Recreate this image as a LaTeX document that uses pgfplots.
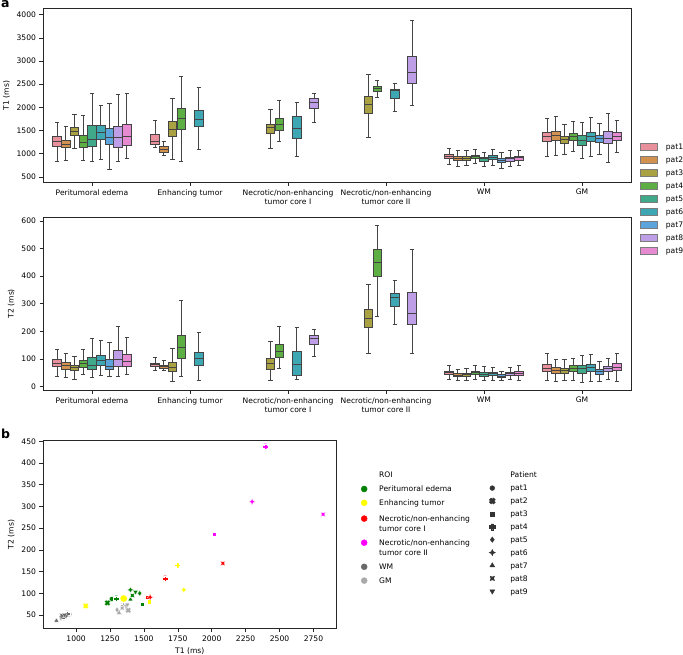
\documentclass[border=0pt]{standalone}
\usepackage{fontspec}
\setmainfont{DejaVu Sans}
\usepackage{pgfplots}
\pgfplotsset{compat=1.18}

% patient colours (as seen in the box plots)
\definecolor{p0}{HTML}{E8919D}
\definecolor{p1}{HTML}{D2914E}
\definecolor{p2}{HTML}{A9A142}
\definecolor{p3}{HTML}{5DAF44}
\definecolor{p4}{HTML}{40A98A}
\definecolor{p5}{HTML}{3DA8B3}
\definecolor{p6}{HTML}{5BA5DC}
\definecolor{p7}{HTML}{BE9EE6}
\definecolor{p8}{HTML}{E68BD2}
\definecolor{boxline}{HTML}{444444}
\definecolor{rE}{HTML}{008000}
\definecolor{rT}{HTML}{FFFF00}
\definecolor{rC}{HTML}{FF0000}
\definecolor{rD}{HTML}{FF00FF}
\definecolor{rW}{HTML}{696969}
\definecolor{rG}{HTML}{A9A9A9}
\definecolor{legdark}{HTML}{333333}

\newcommand{\fs}{\fontsize{7.6}{9.5}\selectfont}
\DeclareRobustCommand{\ls}{\rule[-2pt]{0pt}{9.5pt}}
\DeclareRobustCommand{\lsa}{\rule[-2pt]{0pt}{11.5pt}}
\DeclareRobustCommand{\lsc}{\rule[-2pt]{0pt}{6pt}}

% filled plus
\pgfdeclareplotmark{Pf}{%
  \pgfpathmoveto{\pgfpoint{0.42*\pgfplotmarksize}{\pgfplotmarksize}}%
  \pgfpathlineto{\pgfpoint{0.42*\pgfplotmarksize}{0.42*\pgfplotmarksize}}%
  \pgfpathlineto{\pgfpoint{\pgfplotmarksize}{0.42*\pgfplotmarksize}}%
  \pgfpathlineto{\pgfpoint{\pgfplotmarksize}{-0.42*\pgfplotmarksize}}%
  \pgfpathlineto{\pgfpoint{0.42*\pgfplotmarksize}{-0.42*\pgfplotmarksize}}%
  \pgfpathlineto{\pgfpoint{0.42*\pgfplotmarksize}{-\pgfplotmarksize}}%
  \pgfpathlineto{\pgfpoint{-0.42*\pgfplotmarksize}{-\pgfplotmarksize}}%
  \pgfpathlineto{\pgfpoint{-0.42*\pgfplotmarksize}{-0.42*\pgfplotmarksize}}%
  \pgfpathlineto{\pgfpoint{-\pgfplotmarksize}{-0.42*\pgfplotmarksize}}%
  \pgfpathlineto{\pgfpoint{-\pgfplotmarksize}{0.42*\pgfplotmarksize}}%
  \pgfpathlineto{\pgfpoint{-0.42*\pgfplotmarksize}{0.42*\pgfplotmarksize}}%
  \pgfpathlineto{\pgfpoint{-0.42*\pgfplotmarksize}{\pgfplotmarksize}}%
  \pgfpathclose
  \pgfusepathqfillstroke}
% four-pointed star
\pgfdeclareplotmark{S4}{%
  \pgfpathmoveto{\pgfpoint{0pt}{\pgfplotmarksize}}%
  \pgfpathlineto{\pgfpoint{0.32*\pgfplotmarksize}{0.32*\pgfplotmarksize}}%
  \pgfpathlineto{\pgfpoint{\pgfplotmarksize}{0pt}}%
  \pgfpathlineto{\pgfpoint{0.32*\pgfplotmarksize}{-0.32*\pgfplotmarksize}}%
  \pgfpathlineto{\pgfpoint{0pt}{-\pgfplotmarksize}}%
  \pgfpathlineto{\pgfpoint{-0.32*\pgfplotmarksize}{-0.32*\pgfplotmarksize}}%
  \pgfpathlineto{\pgfpoint{-\pgfplotmarksize}{0pt}}%
  \pgfpathlineto{\pgfpoint{-0.32*\pgfplotmarksize}{0.32*\pgfplotmarksize}}%
  \pgfpathclose
  \pgfusepathqfillstroke}

\pgfplotsset{
  base/.style={scale only axis, axis line style={black!85, line width=0.6pt},
    tick align=outside, major tick length=3.5pt,
    tick style={black!85, line width=0.6pt}, tick pos=left,
    tick label style={font=\fs}, label style={font=\fs},
    /pgf/number format/assume math mode=true,
    /pgf/number format/set thousands separator={}},
  boxax/.style={base, width=588pt, xmin=-0.5, xmax=5.5, xtick={0,...,5},
    xticklabels={Peritumoral edema, Enhancing tumor,
      {Necrotic/non-enhancing\\tumor core I},
      {Necrotic/non-enhancing\\tumor core II}, WM, GM},
    xticklabel style={align=center}},
  legbox/.style={legend image code/.code={\draw[fill=#1,draw=boxline!70,line width=0.7pt] (0pt,-0.8pt) rectangle (17pt,6.2pt);}},
  pm1/.style={mark=*, mark size=2.4pt},
  pm2/.style={mark=Pf, mark size=3pt, /tikz/every mark/.append style={rotate=45}},
  pm3/.style={mark=square*, mark size=2.1pt},
  pm4/.style={mark=Pf, mark size=2.9pt},
  pm5/.style={mark=diamond*, mark size=2.7pt},
  pm6/.style={mark=S4, mark size=3.1pt},
  pm7/.style={mark=triangle*, mark size=2.8pt},
  pm8/.style={mark=S4, mark size=3.1pt, /tikz/every mark/.append style={rotate=45}},
  pm9/.style={mark=triangle*, mark size=2.8pt, /tikz/every mark/.append style={rotate=180}},
}

% box: category, patient index, lower whisker, q1, median, q3, upper whisker
\newcommand{\bx}[7]{%
  \pgfmathsetmacro{\bxC}{#1-0.4+0.088889*(#2+0.5)}%
  \pgfmathsetmacro{\bxL}{\bxC-0.0436}%
  \pgfmathsetmacro{\bxR}{\bxC+0.0436}%
  \pgfmathsetmacro{\capL}{\bxC-0.0218}%
  \pgfmathsetmacro{\capR}{\bxC+0.0218}%
  \edef\bxcmd{%
    \noexpand\addplot[fill=p#2, draw=boxline, line width=0.8pt, legbox=p#2]
      coordinates {(\bxL,#4) (\bxR,#4) (\bxR,#6) (\bxL,#6)} --cycle;
    \noexpand\addplot[draw=boxline, line width=0.8pt, unbounded coords=jump, forget plot]
      coordinates {(\bxC,#3) (\bxC,#4) (\bxC,nan) (\bxC,#6) (\bxC,#7) (\bxC,nan)
        (\capL,#3) (\capR,#3) (\capR,nan) (\capL,#7) (\capR,#7) (\capR,nan) (\bxL,#5) (\bxR,#5)};}%
  \bxcmd}
% scatter point: colour, patient, T1, T2
\newcommand{\spt}[4]{\addplot[only marks, color=#1, pm#2,
  /tikz/every mark/.append style={fill=#1, draw=white, line width=0.2pt}] coordinates {(#3,#4)};}

\begin{document}
\begin{tikzpicture}
\path[use as bounding box] (0pt,0pt) rectangle (683pt,-655pt);

% ---------- T1 boxes ----------
\begin{axis}[boxax, at={(43pt,-8.7pt)}, anchor=north west, height=173.6pt,
  ymin=383, ymax=4130, ytick={500,1000,...,4000}, ylabel={T1 (ms)},
  legend style={at={(1.0153,0.2367)}, anchor=north west, draw=none, fill=none,
    inner sep=0pt, row sep=1.9pt, font=\fs, cells={anchor=base west},
    nodes={inner sep=1pt}}]
\bx{0}{0}{842}{1151}{1259}{1367}{1676}\addlegendentry{\hspace{7pt}\ls pat1}
\bx{0}{1}{856}{1129}{1209}{1295}{1597}\addlegendentry{\hspace{7pt}\ls pat2}
\bx{0}{2}{1122}{1396}{1475}{1568}{1856}\addlegendentry{\hspace{7pt}\ls pat3}
\bx{0}{3}{863}{1144}{1245}{1403}{1834}\addlegendentry{\hspace{7pt}\ls pat4}
\bx{0}{4}{842}{1151}{1317}{1604}{2309}\addlegendentry{\hspace{7pt}\ls pat5}
\bx{0}{5}{878}{1309}{1453}{1604}{2050}\addlegendentry{\hspace{7pt}\ls pat6}
\bx{0}{6}{655}{1194}{1360}{1547}{2094}\addlegendentry{\hspace{7pt}\ls pat7}
\bx{0}{7}{835}{1144}{1360}{1597}{2281}\addlegendentry{\hspace{7pt}\ls pat8}
\bx{0}{8}{892}{1180}{1374}{1633}{2302}\addlegendentry{\hspace{7pt}\ls pat9}
\bx{1}{0}{1144}{1209}{1259}{1417}{1719}
\bx{1}{1}{957}{1036}{1094}{1165}{1273}
\bx{1}{2}{878}{1381}{1532}{1705}{2194}
\bx{1}{3}{835}{1518}{1770}{1978}{2669}
\bx{1}{5}{1086}{1590}{1748}{1928}{2432}
\bx{2}{2}{1108}{1432}{1568}{1640}{1957}
\bx{2}{3}{1266}{1504}{1626}{1763}{2158}
\bx{2}{5}{942}{1331}{1554}{1799}{2101}
\bx{2}{7}{1676}{1986}{2101}{2194}{2295}
\bx{3}{2}{1345}{1870}{2072}{2237}{2705}
\bx{3}{3}{2209}{2345}{2403}{2453}{2590}
\bx{3}{5}{1921}{2194}{2360}{2396}{2511}
\bx{3}{7}{2036}{2518}{2748}{3108}{3870}
\bx{4}{0}{770}{906}{950}{986}{1122}
\bx{4}{1}{734}{856}{899}{935}{1065}
\bx{4}{2}{741}{856}{906}{935}{1065}
\bx{4}{3}{784}{892}{935}{971}{1086}
\bx{4}{4}{734}{827}{892}{921}{1029}
\bx{4}{5}{748}{878}{928}{964}{1101}
\bx{4}{6}{683}{806}{849}{892}{1022}
\bx{4}{7}{719}{835}{892}{921}{1072}
\bx{4}{8}{741}{856}{914}{942}{1072}
\bx{5}{0}{950}{1259}{1367}{1453}{1770}
\bx{5}{1}{957}{1281}{1388}{1482}{1799}
\bx{5}{2}{978}{1223}{1309}{1381}{1633}
\bx{5}{3}{1043}{1295}{1367}{1439}{1691}
\bx{5}{4}{899}{1187}{1295}{1403}{1683}
\bx{5}{5}{950}{1266}{1367}{1460}{1784}
\bx{5}{6}{986}{1237}{1331}{1403}{1655}
\bx{5}{7}{813}{1216}{1338}{1475}{1870}
\bx{5}{8}{1022}{1295}{1381}{1460}{1727}
\end{axis}

% ---------- T2 boxes ----------
\begin{axis}[boxax, at={(43pt,-217pt)}, anchor=north west, height=173.3pt,
  ymin=-13, ymax=614, ytick={0,100,...,600}, ylabel={T2 (ms)}]
\bx{0}{0}{37}{72}{84}{98}{136}
\bx{0}{1}{34}{64}{76}{87}{120}
\bx{0}{2}{28}{59}{69}{76}{108}
\bx{0}{3}{45}{71}{83}{95}{134}
\bx{0}{4}{34}{61}{76}{106}{176}
\bx{0}{5}{41}{76}{94}{112}{167}
\bx{0}{6}{36}{61}{73}{100}{160}
\bx{0}{7}{37}{73}{100}{133}{220}
\bx{0}{8}{45}{73}{90}{116}{178}
\bx{1}{0}{60}{73}{81}{86}{106}
\bx{1}{1}{58}{66}{73}{77}{94}
\bx{1}{2}{18}{57}{70}{89}{139}
\bx{1}{3}{37}{104}{143}{187}{313}
\bx{1}{5}{24}{77}{101}{125}{198}
\bx{2}{2}{24}{64}{83}{102}{164}
\bx{2}{3}{65}{107}{128}{153}{219}
\bx{2}{5}{25}{42}{82}{129}{213}
\bx{2}{7}{111}{154}{173}{187}{208}
\bx{3}{2}{122}{216}{247}{278}{370}
\bx{3}{3}{255}{400}{451}{498}{582}
\bx{3}{5}{227}{292}{324}{337}{384}
\bx{3}{7}{120}{227}{264}{342}{498}
\bx{4}{0}{25}{45}{52}{57}{78}
\bx{4}{1}{24}{37}{42}{47}{64}
\bx{4}{2}{24}{39}{45}{49}{66}
\bx{4}{3}{28}{45}{53}{57}{77}
\bx{4}{4}{23}{37}{45}{51}{73}
\bx{4}{5}{24}{40}{47}{52}{71}
\bx{4}{6}{23}{34}{39}{43}{57}
\bx{4}{7}{25}{40}{48}{53}{69}
\bx{4}{8}{24}{41}{49}{55}{76}
\bx{5}{0}{24}{55}{67}{82}{120}
\bx{5}{1}{18}{49}{60}{70}{100}
\bx{5}{2}{24}{47}{58}{67}{100}
\bx{5}{3}{24}{57}{67}{76}{104}
\bx{5}{4}{17}{49}{65}{76}{112}
\bx{5}{5}{19}{54}{70}{81}{118}
\bx{5}{6}{18}{45}{54}{64}{90}
\bx{5}{7}{28}{57}{65}{73}{104}
\bx{5}{8}{20}{58}{71}{83}{119}
\end{axis}

% ---------- scatter of means ----------
\begin{axis}[base, at={(43pt,-440.5pt)}, anchor=north west, width=293.5pt, height=188pt,
  xmin=756, xmax=2920, ymin=19, ymax=452,
  xtick={1000,1250,...,2750}, ytick={50,100,...,450},
  xlabel={T1 (ms)}, ylabel={T2 (ms)}]
% GM
\spt{rG}{1}{1365}{70}
\spt{rG}{2}{1384}{61}
\spt{rG}{3}{1310}{58}
\spt{rG}{4}{1347}{73}
\spt{rG}{5}{1302}{62}
\spt{rG}{6}{1370}{72}
\spt{rG}{7}{1317}{55}
\spt{rG}{8}{1340}{66}
\spt{rG}{9}{1378}{74}
% WM
\spt{rW}{1}{950}{52}
\spt{rW}{2}{900}{44}
\spt{rW}{3}{905}{46}
\spt{rW}{4}{935}{53}
\spt{rW}{5}{890}{46}
\spt{rW}{6}{925}{48}
\spt{rW}{7}{855}{37}
\spt{rW}{8}{895}{49}
\spt{rW}{9}{915}{50}
% peritumoral edema
\spt{rE}{1}{1263}{87}
\spt{rE}{2}{1231}{78}
\spt{rE}{3}{1489}{76}
\spt{rE}{4}{1297}{88}
\spt{rE}{5}{1469}{100}
\spt{rE}{6}{1401}{108}
\spt{rE}{7}{1401}{86}
\spt{rE}{8}{1415}{95}
\spt{rE}{9}{1438}{103}
% enhancing tumor
\addplot[only marks, color=rT, mark=*, mark size=3.6pt,
  /tikz/every mark/.append style={fill=rT, draw=white, line width=0.2pt}] coordinates {(1351,88)};
\spt{rT}{2}{1071}{71}
\spt{rT}{3}{1538}{81}
\spt{rT}{4}{1747}{165}
\spt{rT}{6}{1794}{108}
% necrotic core I
\spt{rC}{3}{1526}{91}
\spt{rC}{4}{1656}{134}
\spt{rC}{6}{1546}{91}
\spt{rC}{8}{2082}{169}
% necrotic core II
\spt{rD}{3}{2018}{237}
\spt{rD}{4}{2396}{438}
\spt{rD}{6}{2298}{311}
\spt{rD}{8}{2821}{282}
\end{axis}

% ---------- ROI legend ----------
\begin{axis}[at={(361pt,-469.2pt)}, anchor=north west, hide axis, scale only axis,
  width=10pt, height=10pt, xmin=0, xmax=1, ymin=0, ymax=1,
  legend image code/.code={\draw[mark repeat=2,mark phase=2,#1] plot coordinates {(-4pt,2.7pt)(0pt,2.7pt)(4pt,2.7pt)};},
  legend style={at={(0,1)}, anchor=north west, draw=none, fill=none,
    inner sep=0pt, row sep=2.8pt, font=\fs, cells={anchor=base west},
    nodes={inner sep=1pt}}]
\addlegendimage{empty legend}\addlegendentry{\hspace{11pt}\ls ROI}
\addlegendimage{only marks, mark=*, mark size=3pt, color=rE}\addlegendentry{\hspace{11pt}\ls Peritumoral edema}
\addlegendimage{only marks, mark=*, mark size=3pt, color=rT}\addlegendentry{\hspace{11pt}\ls Enhancing tumor}
\addlegendimage{only marks, mark=*, mark size=3pt, color=rC}\addlegendentry{\hspace{11pt}\lsa Necrotic/non-enhancing}
\addlegendimage{empty legend}\addlegendentry{\hspace{11pt}\lsc\smash{tumor core I}}
\addlegendimage{only marks, mark=*, mark size=3pt, color=rD}\addlegendentry{\hspace{11pt}\ls Necrotic/non-enhancing}
\addlegendimage{empty legend}\addlegendentry{\hspace{11pt}\lsc\smash{tumor core II}}
\addlegendimage{only marks, mark=*, mark size=3pt, color=rW}\addlegendentry{\hspace{11pt}\ls WM}
\addlegendimage{only marks, mark=*, mark size=3pt, color=rG}\addlegendentry{\hspace{11pt}\ls GM}
\end{axis}

% ---------- patient legend ----------
\begin{axis}[at={(489pt,-469.2pt)}, anchor=north west, hide axis, scale only axis,
  width=10pt, height=10pt, xmin=0, xmax=1, ymin=0, ymax=1,
  legend image code/.code={\draw[mark repeat=2,mark phase=2,#1] plot coordinates {(-4pt,2.7pt)(0pt,2.7pt)(4pt,2.7pt)};},
  legend style={at={(0,1)}, anchor=north west, draw=none, fill=none,
    inner sep=0pt, row sep=1.9pt, font=\fs, cells={anchor=base west},
    nodes={inner sep=1pt}}]
\addlegendimage{empty legend}\addlegendentry{\hspace{14pt}\ls Patient}
\addlegendimage{only marks, color=legdark, pm1}\addlegendentry{\hspace{14pt}\ls pat1}
\addlegendimage{only marks, color=legdark, pm2, /tikz/every mark/.append style={fill=legdark}}\addlegendentry{\hspace{14pt}\ls pat2}
\addlegendimage{only marks, color=legdark, pm3}\addlegendentry{\hspace{14pt}\ls pat3}
\addlegendimage{only marks, color=legdark, pm4, /tikz/every mark/.append style={fill=legdark}}\addlegendentry{\hspace{14pt}\ls pat4}
\addlegendimage{only marks, color=legdark, pm5}\addlegendentry{\hspace{14pt}\ls pat5}
\addlegendimage{only marks, color=legdark, pm6, /tikz/every mark/.append style={fill=legdark}}\addlegendentry{\hspace{14pt}\ls pat6}
\addlegendimage{only marks, color=legdark, pm7}\addlegendentry{\hspace{14pt}\ls pat7}
\addlegendimage{only marks, color=legdark, pm8, /tikz/every mark/.append style={fill=legdark}}\addlegendentry{\hspace{14pt}\ls pat8}
\addlegendimage{only marks, color=legdark, pm9}\addlegendentry{\hspace{14pt}\ls pat9}
\end{axis}

\node[anchor=north west, inner sep=0pt, font=\bfseries\fontsize{12.5}{14}\selectfont] at (1pt,-0.8pt) {a};
\node[anchor=north west, inner sep=0pt, font=\bfseries\fontsize{12.5}{14}\selectfont] at (1pt,-429pt) {b};
\end{tikzpicture}
\end{document}
